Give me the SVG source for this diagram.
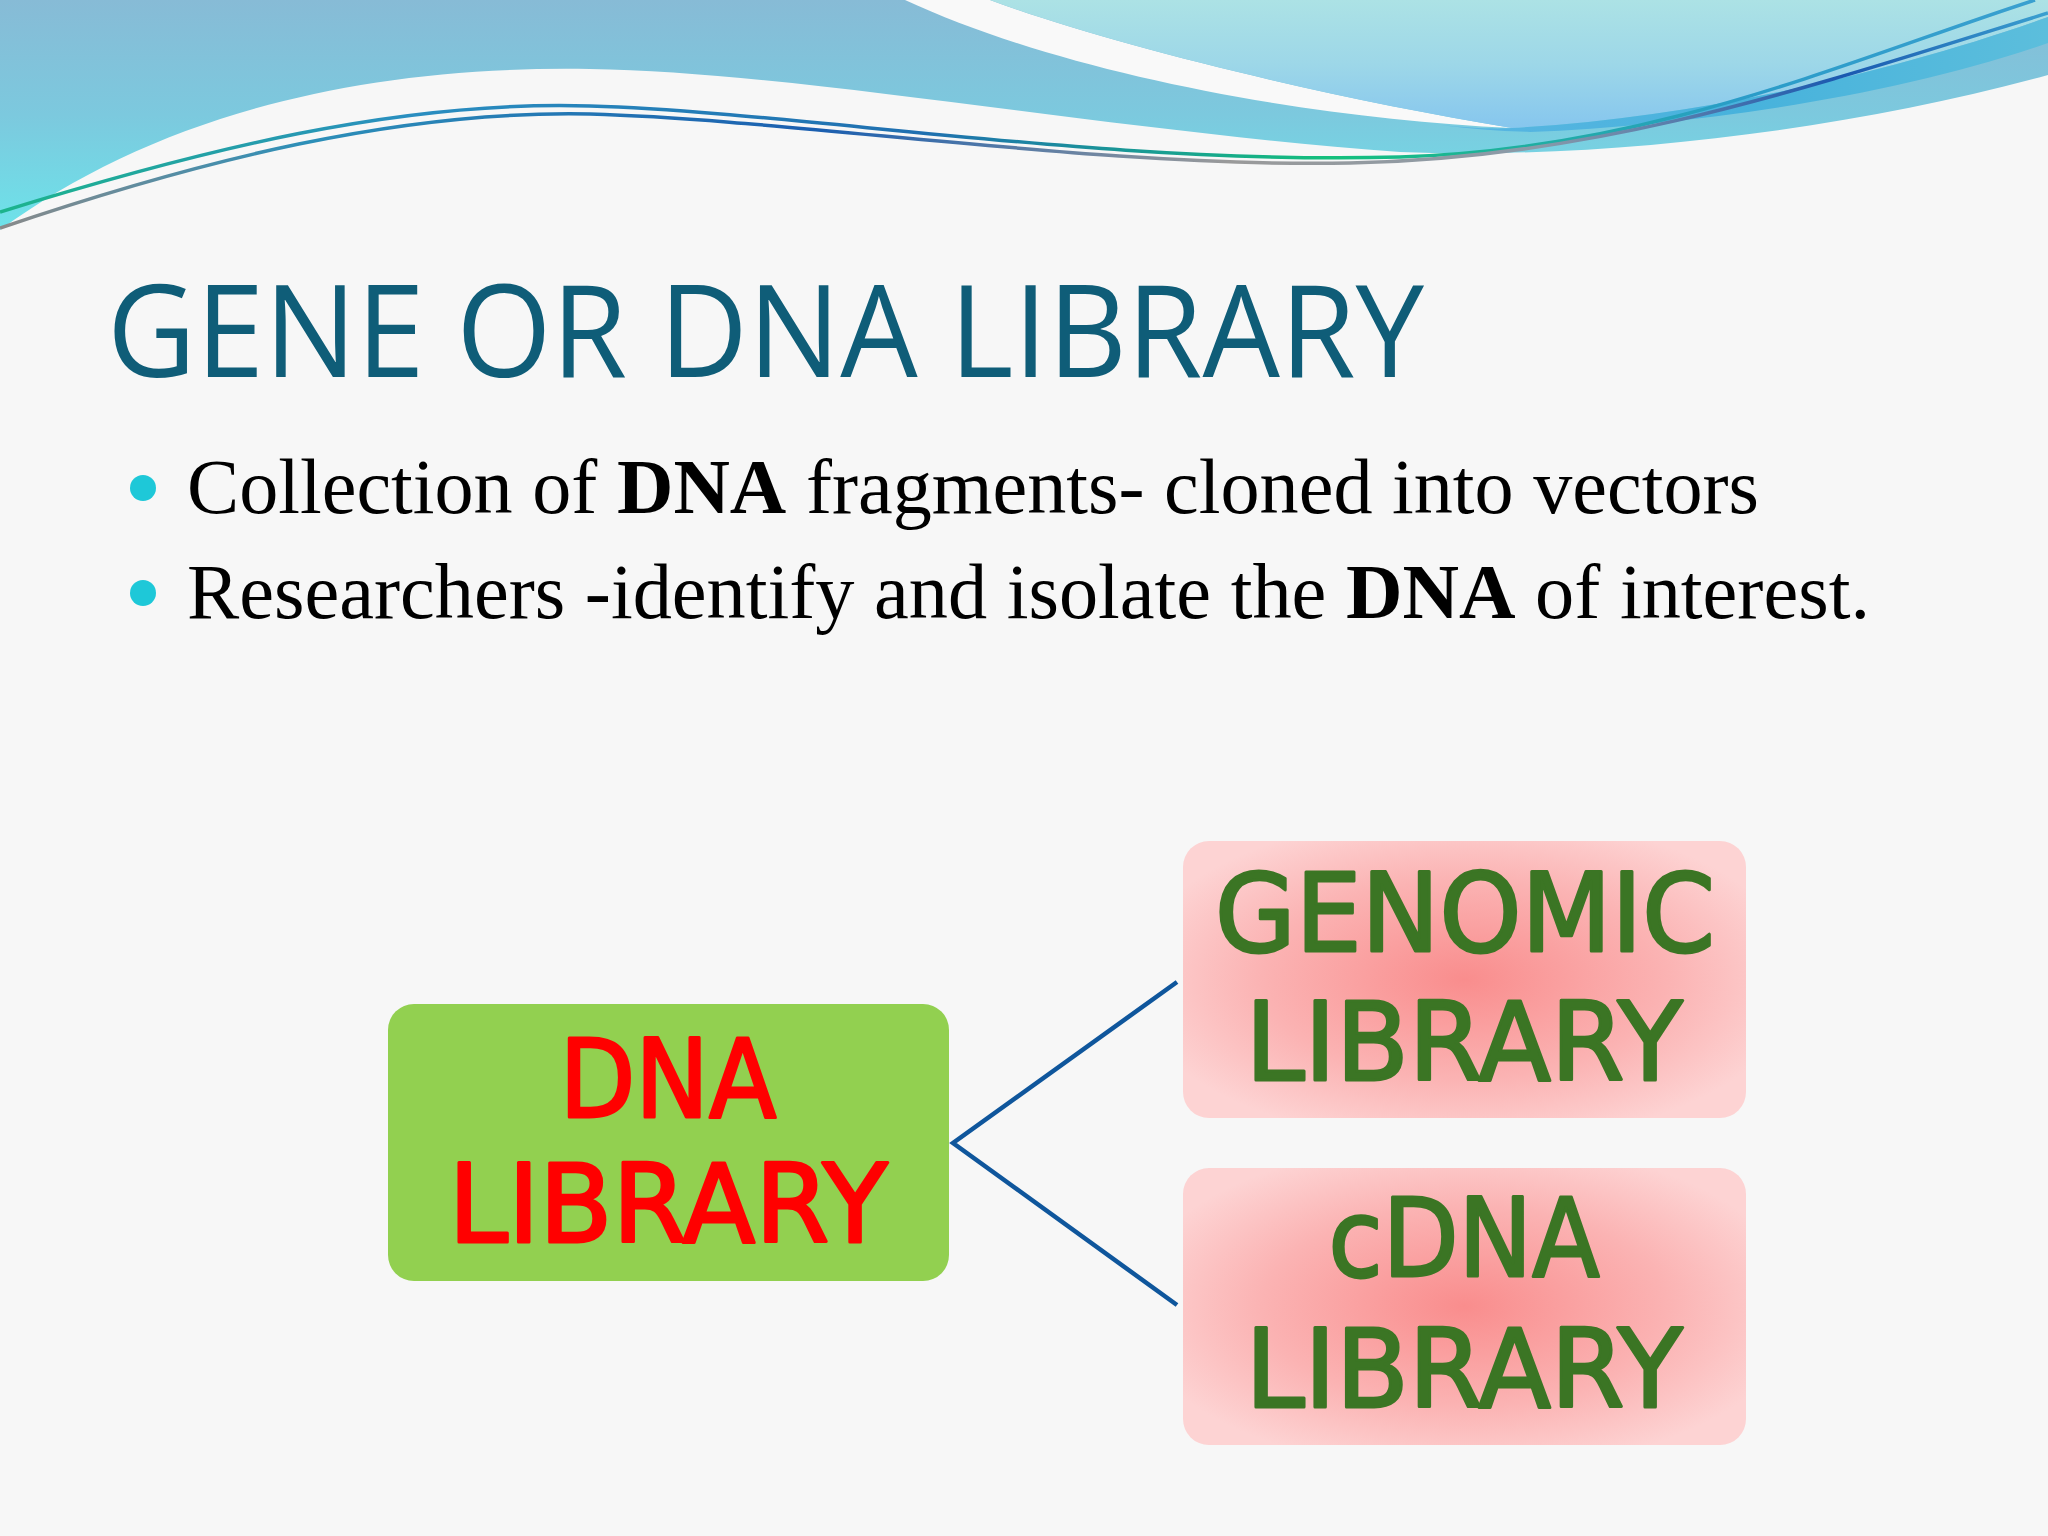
<svg xmlns="http://www.w3.org/2000/svg" width="2048" height="1536" viewBox="0 0 2048 1536">
<defs>
<linearGradient id="gA" x1="0" y1="0" x2="0" y2="1" gradientUnits="objectBoundingBox">
<stop offset="0" stop-color="#87bbd6"/>
<stop offset="0.5" stop-color="#7cc9de"/>
<stop offset="1" stop-color="#6de3ea"/>
</linearGradient>
<linearGradient id="gC" x1="0" y1="0" x2="0" y2="1">
<stop offset="0" stop-color="#ace2e5"/>
<stop offset="0.5" stop-color="#9dd7e8"/>
<stop offset="1" stop-color="#86c6ee"/>
</linearGradient>
<linearGradient id="gBand" x1="0" y1="0" x2="1" y2="0">
<stop offset="0" stop-color="#5ab6e2"/>
<stop offset="0.5" stop-color="#47b2dc"/>
<stop offset="1" stop-color="#5cbedc"/>
</linearGradient>
<linearGradient id="gL1" x1="0" y1="0" x2="2048" y2="0" gradientUnits="userSpaceOnUse">
<stop offset="0" stop-color="#1cb48c"/>
<stop offset="0.2" stop-color="#2a8ec0"/>
<stop offset="0.45" stop-color="#1f6fb0"/>
<stop offset="0.65" stop-color="#14c07c"/>
<stop offset="0.85" stop-color="#2a9cc8"/>
<stop offset="1" stop-color="#3aa0d0"/>
</linearGradient>
<linearGradient id="gL2" x1="0" y1="0" x2="2048" y2="0" gradientUnits="userSpaceOnUse">
<stop offset="0" stop-color="#8a8a8a"/>
<stop offset="0.15" stop-color="#2c8fb8"/>
<stop offset="0.4" stop-color="#1b5fb0"/>
<stop offset="0.6" stop-color="#9a9a9a"/>
<stop offset="0.75" stop-color="#8a9aa8"/>
<stop offset="0.9" stop-color="#1a58b0"/>
<stop offset="1" stop-color="#3aa0d0"/>
</linearGradient>
<radialGradient id="gPink" cx="0.5" cy="0.5" r="0.6">
<stop offset="0" stop-color="#f98d8d"/>
<stop offset="0.6" stop-color="#fbb3b3"/>
<stop offset="1" stop-color="#fdd3d3"/>
</radialGradient>
<style>
.title{font-family:"Open Sans","Noto Sans",sans-serif;font-size:129px;fill:#0f5d78}
.bullet{font-family:"Liberation Serif","DejaVu Serif",serif;font-size:78px;fill:#000}
.dot{fill:#1ec8d8}
.green{fill:#92d050}
.pink{fill:url(#gPink)}
.redtxt{font-family:"Comic Sans MS","DejaVu Sans",sans-serif;font-size:108px;fill:#ff0000;stroke:#ff0000;stroke-width:3;stroke-linejoin:round;text-anchor:middle}
.gtxt{font-family:"Comic Sans MS","DejaVu Sans",sans-serif;font-size:108px;fill:#3b7524;stroke:#3b7524;stroke-width:3;stroke-linejoin:round;text-anchor:middle}
.conn{stroke:#0f569c;stroke-width:4.5;fill:none}
</style>
</defs>
<rect x="0" y="0" width="2048" height="1536" fill="#f7f7f7"/>
<g id="header">
<path d="M0,0 L2048,0 L2048,75 C1850,130 1600,160 1400,152 C1100,130 800,72 590,69 C350,65 150,120 0,230 Z" fill="url(#gA)"/>
<path d="M905,0 C1060,72 1300,118 1512,128 C1330,98 1110,45 990,0 Z" fill="#f9f9f9"/>
<path d="M990,0 C1110,45 1330,98 1512,128 C1700,118 1900,70 2048,17 L2048,0 Z" fill="url(#gC)"/>
<path d="M1440,125 C1470,128 1495,129 1512,128 C1700,118 1900,70 2048,17 L2048,43 C1900,95 1700,125 1530,132 C1500,131 1470,129 1440,125 Z" fill="url(#gBand)"/>
<path d="M0,212 C200,150 400,100 590,106 C800,112 1100,165 1400,157 C1650,150 1850,60 2035,0" stroke="url(#gL1)" stroke-width="3.5" fill="none"/>
<path d="M0,228 C200,160 400,110 590,114 C800,120 1100,168 1350,163 C1600,158 1800,90 2048,13" stroke="url(#gL2)" stroke-width="3.5" fill="none"/>
</g>
<g id="title">
<text class="title" x="107" y="377" textLength="1317" lengthAdjust="spacingAndGlyphs">GENE OR DNA LIBRARY</text>
</g>
<g id="bullets">
<circle class="dot" cx="143" cy="488" r="13"/>
<text class="bullet" x="187" y="513" textLength="1572" lengthAdjust="spacingAndGlyphs">Collection of <tspan font-weight="bold">DNA</tspan> fragments- cloned into vectors</text>
<circle class="dot" cx="143" cy="593" r="13"/>
<text class="bullet" x="187" y="618" textLength="1683" lengthAdjust="spacingAndGlyphs">Researchers -identify and isolate the <tspan font-weight="bold">DNA</tspan> of interest.</text>
</g>
<g id="connectors">
<polyline class="conn" points="1177,982 953,1143 1177,1305"/>
</g>
<g id="node-dna-library">
<rect class="green" x="388" y="1004" width="561" height="277" rx="26" ry="26"/>
<text class="redtxt" x="668" y="1117" textLength="217" lengthAdjust="spacingAndGlyphs">DNA</text>
<text class="redtxt" x="668" y="1242" textLength="439" lengthAdjust="spacingAndGlyphs">LIBRARY</text>
</g>
<g id="node-genomic-library">
<rect class="pink" x="1183" y="841" width="563" height="277" rx="26" ry="26"/>
<text class="gtxt" x="1465" y="951" textLength="500" lengthAdjust="spacingAndGlyphs">GENOMIC</text>
<text class="gtxt" x="1464" y="1080" textLength="437" lengthAdjust="spacingAndGlyphs">LIBRARY</text>
</g>
<g id="node-cdna-library">
<rect class="pink" x="1183" y="1168" width="563" height="277" rx="26" ry="26"/>
<text class="gtxt" x="1464" y="1276" textLength="271" lengthAdjust="spacingAndGlyphs">cDNA</text>
<text class="gtxt" x="1464" y="1407" textLength="437" lengthAdjust="spacingAndGlyphs">LIBRARY</text>
</g>
</svg>
